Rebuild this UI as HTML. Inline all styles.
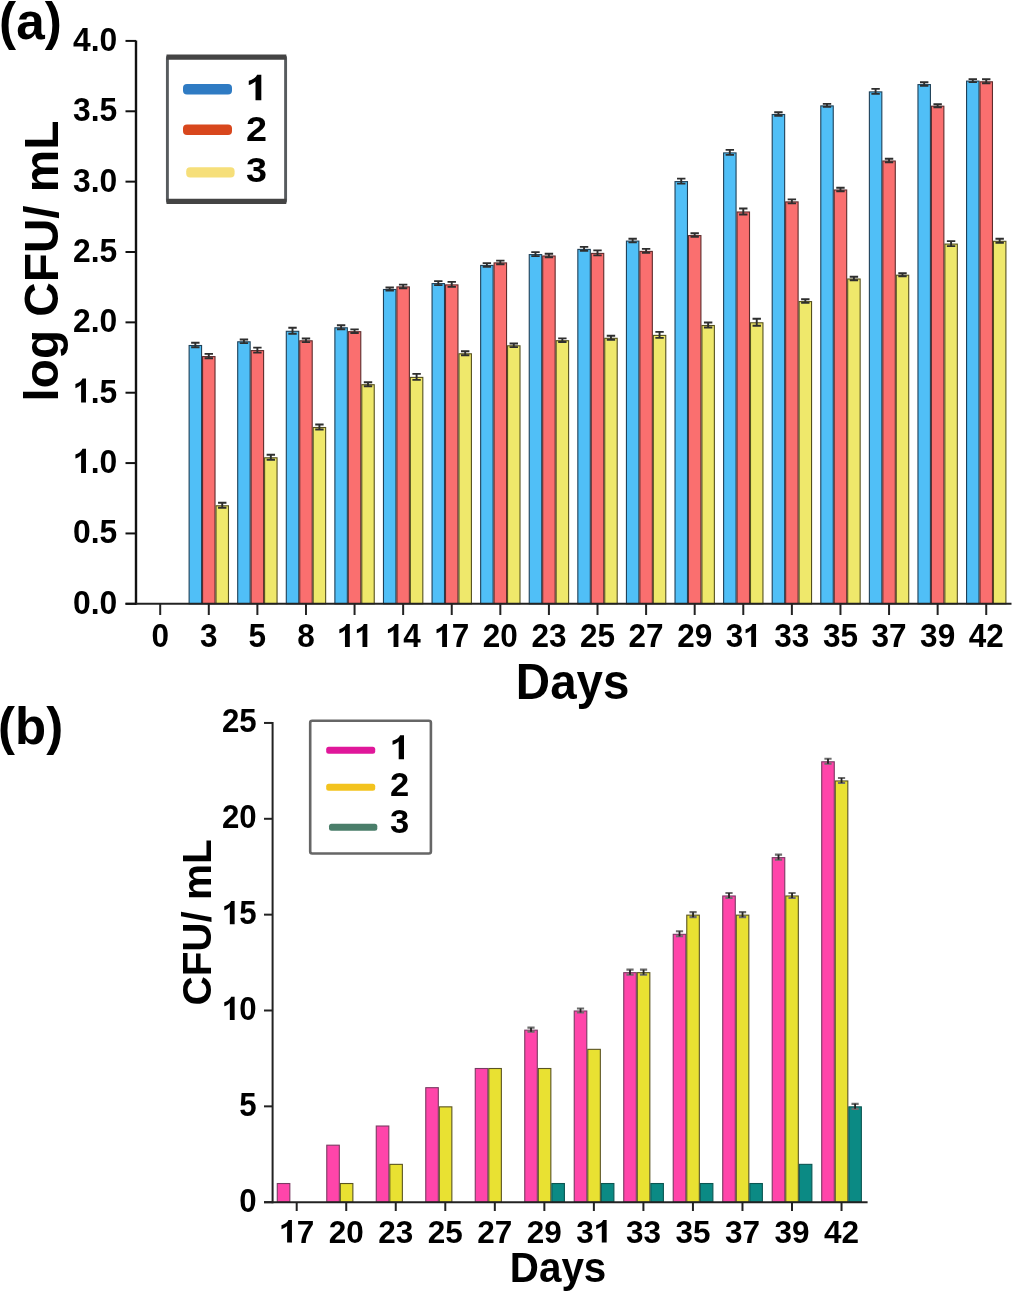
<!DOCTYPE html>
<html><head><meta charset="utf-8"><title>Chart</title>
<style>html,body{margin:0;padding:0;background:#fff;width:1015px;height:1293px;overflow:hidden}</style>
</head><body>
<svg width="1015" height="1293" viewBox="0 0 1015 1293" style="display:block;will-change:transform"><rect width="1015" height="1293" fill="#fff"/><g font-family='"Liberation Sans", sans-serif' font-weight="bold" fill="#000"><rect x="189.12" y="345.50" width="12.45" height="258.30" fill="#50bff7" stroke="#1f4058" stroke-width="1.1"/><rect x="202.56" y="356.60" width="12.45" height="247.20" fill="#fa6f6f" stroke="#5e2c2c" stroke-width="1.1"/><rect x="216.02" y="505.80" width="12.45" height="98.00" fill="#efe86b" stroke="#55501e" stroke-width="1.1"/><rect x="237.70" y="341.80" width="12.45" height="262.00" fill="#50bff7" stroke="#1f4058" stroke-width="1.1"/><rect x="251.15" y="350.60" width="12.45" height="253.20" fill="#fa6f6f" stroke="#5e2c2c" stroke-width="1.1"/><rect x="264.60" y="457.80" width="12.45" height="146.00" fill="#efe86b" stroke="#55501e" stroke-width="1.1"/><rect x="286.30" y="331.30" width="12.45" height="272.50" fill="#50bff7" stroke="#1f4058" stroke-width="1.1"/><rect x="299.75" y="340.80" width="12.45" height="263.00" fill="#fa6f6f" stroke="#5e2c2c" stroke-width="1.1"/><rect x="313.19" y="427.50" width="12.45" height="176.30" fill="#efe86b" stroke="#55501e" stroke-width="1.1"/><rect x="334.88" y="327.80" width="12.45" height="276.00" fill="#50bff7" stroke="#1f4058" stroke-width="1.1"/><rect x="348.33" y="331.70" width="12.45" height="272.10" fill="#fa6f6f" stroke="#5e2c2c" stroke-width="1.1"/><rect x="361.78" y="384.70" width="12.45" height="219.10" fill="#efe86b" stroke="#55501e" stroke-width="1.1"/><rect x="383.47" y="289.50" width="12.45" height="314.30" fill="#50bff7" stroke="#1f4058" stroke-width="1.1"/><rect x="396.92" y="286.90" width="12.45" height="316.90" fill="#fa6f6f" stroke="#5e2c2c" stroke-width="1.1"/><rect x="410.37" y="377.40" width="12.45" height="226.40" fill="#efe86b" stroke="#55501e" stroke-width="1.1"/><rect x="432.06" y="283.60" width="12.45" height="320.20" fill="#50bff7" stroke="#1f4058" stroke-width="1.1"/><rect x="445.51" y="284.90" width="12.45" height="318.90" fill="#fa6f6f" stroke="#5e2c2c" stroke-width="1.1"/><rect x="458.96" y="353.80" width="12.45" height="250.00" fill="#efe86b" stroke="#55501e" stroke-width="1.1"/><rect x="480.65" y="265.40" width="12.45" height="338.40" fill="#50bff7" stroke="#1f4058" stroke-width="1.1"/><rect x="494.10" y="262.90" width="12.45" height="340.90" fill="#fa6f6f" stroke="#5e2c2c" stroke-width="1.1"/><rect x="507.55" y="345.80" width="12.45" height="258.00" fill="#efe86b" stroke="#55501e" stroke-width="1.1"/><rect x="529.25" y="254.60" width="12.45" height="349.20" fill="#50bff7" stroke="#1f4058" stroke-width="1.1"/><rect x="542.70" y="256.00" width="12.45" height="347.80" fill="#fa6f6f" stroke="#5e2c2c" stroke-width="1.1"/><rect x="556.15" y="340.70" width="12.45" height="263.10" fill="#efe86b" stroke="#55501e" stroke-width="1.1"/><rect x="577.84" y="249.40" width="12.45" height="354.40" fill="#50bff7" stroke="#1f4058" stroke-width="1.1"/><rect x="591.29" y="253.40" width="12.45" height="350.40" fill="#fa6f6f" stroke="#5e2c2c" stroke-width="1.1"/><rect x="604.74" y="338.30" width="12.45" height="265.50" fill="#efe86b" stroke="#55501e" stroke-width="1.1"/><rect x="626.43" y="241.10" width="12.45" height="362.70" fill="#50bff7" stroke="#1f4058" stroke-width="1.1"/><rect x="639.88" y="251.40" width="12.45" height="352.40" fill="#fa6f6f" stroke="#5e2c2c" stroke-width="1.1"/><rect x="653.33" y="335.40" width="12.45" height="268.40" fill="#efe86b" stroke="#55501e" stroke-width="1.1"/><rect x="675.02" y="181.60" width="12.45" height="422.20" fill="#50bff7" stroke="#1f4058" stroke-width="1.1"/><rect x="688.47" y="235.60" width="12.45" height="368.20" fill="#fa6f6f" stroke="#5e2c2c" stroke-width="1.1"/><rect x="701.92" y="325.50" width="12.45" height="278.30" fill="#efe86b" stroke="#55501e" stroke-width="1.1"/><rect x="723.61" y="152.90" width="12.45" height="450.90" fill="#50bff7" stroke="#1f4058" stroke-width="1.1"/><rect x="737.06" y="212.00" width="12.45" height="391.80" fill="#fa6f6f" stroke="#5e2c2c" stroke-width="1.1"/><rect x="750.50" y="322.80" width="12.45" height="281.00" fill="#efe86b" stroke="#55501e" stroke-width="1.1"/><rect x="772.20" y="114.50" width="12.45" height="489.30" fill="#50bff7" stroke="#1f4058" stroke-width="1.1"/><rect x="785.65" y="201.90" width="12.45" height="401.90" fill="#fa6f6f" stroke="#5e2c2c" stroke-width="1.1"/><rect x="799.10" y="301.60" width="12.45" height="302.20" fill="#efe86b" stroke="#55501e" stroke-width="1.1"/><rect x="820.79" y="105.90" width="12.45" height="497.90" fill="#50bff7" stroke="#1f4058" stroke-width="1.1"/><rect x="834.24" y="190.00" width="12.45" height="413.80" fill="#fa6f6f" stroke="#5e2c2c" stroke-width="1.1"/><rect x="847.69" y="279.00" width="12.45" height="324.80" fill="#efe86b" stroke="#55501e" stroke-width="1.1"/><rect x="869.38" y="91.90" width="12.45" height="511.90" fill="#50bff7" stroke="#1f4058" stroke-width="1.1"/><rect x="882.83" y="161.00" width="12.45" height="442.80" fill="#fa6f6f" stroke="#5e2c2c" stroke-width="1.1"/><rect x="896.27" y="275.20" width="12.45" height="328.60" fill="#efe86b" stroke="#55501e" stroke-width="1.1"/><rect x="917.97" y="84.60" width="12.45" height="519.20" fill="#50bff7" stroke="#1f4058" stroke-width="1.1"/><rect x="931.42" y="106.20" width="12.45" height="497.60" fill="#fa6f6f" stroke="#5e2c2c" stroke-width="1.1"/><rect x="944.87" y="244.10" width="12.45" height="359.70" fill="#efe86b" stroke="#55501e" stroke-width="1.1"/><rect x="966.56" y="81.10" width="12.45" height="522.70" fill="#50bff7" stroke="#1f4058" stroke-width="1.1"/><rect x="980.01" y="81.80" width="12.45" height="522.00" fill="#fa6f6f" stroke="#5e2c2c" stroke-width="1.1"/><rect x="993.46" y="241.30" width="12.45" height="362.50" fill="#efe86b" stroke="#55501e" stroke-width="1.1"/><path d="M191.14 342.80H199.54M191.14 347.20H199.54M195.34 342.80V347.20" stroke="#2e2e2e" stroke-width="1.9" fill="none"/><path d="M204.59 353.90H212.99M204.59 358.30H212.99M208.79 353.90V358.30" stroke="#2e2e2e" stroke-width="1.9" fill="none"/><path d="M218.04 502.80H226.44M218.04 507.80H226.44M222.24 502.80V507.80" stroke="#2e2e2e" stroke-width="1.9" fill="none"/><path d="M239.73 339.50H248.13M239.73 343.10H248.13M243.93 339.50V343.10" stroke="#2e2e2e" stroke-width="1.9" fill="none"/><path d="M253.18 347.60H261.58M253.18 352.60H261.58M257.38 347.60V352.60" stroke="#2e2e2e" stroke-width="1.9" fill="none"/><path d="M266.63 454.80H275.03M266.63 459.80H275.03M270.83 454.80V459.80" stroke="#2e2e2e" stroke-width="1.9" fill="none"/><path d="M288.32 327.80H296.72M288.32 333.80H296.72M292.52 327.80V333.80" stroke="#2e2e2e" stroke-width="1.9" fill="none"/><path d="M301.77 338.50H310.17M301.77 342.10H310.17M305.97 338.50V342.10" stroke="#2e2e2e" stroke-width="1.9" fill="none"/><path d="M315.22 424.50H323.62M315.22 429.50H323.62M319.42 424.50V429.50" stroke="#2e2e2e" stroke-width="1.9" fill="none"/><path d="M336.91 325.30H345.31M336.91 329.30H345.31M341.11 325.30V329.30" stroke="#2e2e2e" stroke-width="1.9" fill="none"/><path d="M350.36 329.40H358.76M350.36 333.00H358.76M354.56 329.40V333.00" stroke="#2e2e2e" stroke-width="1.9" fill="none"/><path d="M363.81 382.20H372.21M363.81 386.20H372.21M368.01 382.20V386.20" stroke="#2e2e2e" stroke-width="1.9" fill="none"/><path d="M385.50 287.50H393.90M385.50 290.50H393.90M389.70 287.50V290.50" stroke="#2e2e2e" stroke-width="1.9" fill="none"/><path d="M398.95 284.60H407.35M398.95 288.20H407.35M403.15 284.60V288.20" stroke="#2e2e2e" stroke-width="1.9" fill="none"/><path d="M412.40 373.90H420.80M412.40 379.90H420.80M416.60 373.90V379.90" stroke="#2e2e2e" stroke-width="1.9" fill="none"/><path d="M434.09 281.10H442.49M434.09 285.10H442.49M438.29 281.10V285.10" stroke="#2e2e2e" stroke-width="1.9" fill="none"/><path d="M447.54 281.90H455.94M447.54 286.90H455.94M451.74 281.90V286.90" stroke="#2e2e2e" stroke-width="1.9" fill="none"/><path d="M460.99 351.30H469.39M460.99 355.30H469.39M465.19 351.30V355.30" stroke="#2e2e2e" stroke-width="1.9" fill="none"/><path d="M482.68 263.10H491.08M482.68 266.70H491.08M486.88 263.10V266.70" stroke="#2e2e2e" stroke-width="1.9" fill="none"/><path d="M496.13 260.60H504.53M496.13 264.20H504.53M500.33 260.60V264.20" stroke="#2e2e2e" stroke-width="1.9" fill="none"/><path d="M509.58 343.50H517.98M509.58 347.10H517.98M513.78 343.50V347.10" stroke="#2e2e2e" stroke-width="1.9" fill="none"/><path d="M531.27 252.10H539.67M531.27 256.10H539.67M535.47 252.10V256.10" stroke="#2e2e2e" stroke-width="1.9" fill="none"/><path d="M544.72 253.70H553.12M544.72 257.30H553.12M548.92 253.70V257.30" stroke="#2e2e2e" stroke-width="1.9" fill="none"/><path d="M558.17 338.40H566.57M558.17 342.00H566.57M562.37 338.40V342.00" stroke="#2e2e2e" stroke-width="1.9" fill="none"/><path d="M579.86 246.90H588.26M579.86 250.90H588.26M584.06 246.90V250.90" stroke="#2e2e2e" stroke-width="1.9" fill="none"/><path d="M593.31 250.40H601.71M593.31 255.40H601.71M597.51 250.40V255.40" stroke="#2e2e2e" stroke-width="1.9" fill="none"/><path d="M606.76 335.80H615.16M606.76 339.80H615.16M610.96 335.80V339.80" stroke="#2e2e2e" stroke-width="1.9" fill="none"/><path d="M628.45 238.80H636.85M628.45 242.40H636.85M632.65 238.80V242.40" stroke="#2e2e2e" stroke-width="1.9" fill="none"/><path d="M641.90 248.90H650.30M641.90 252.90H650.30M646.10 248.90V252.90" stroke="#2e2e2e" stroke-width="1.9" fill="none"/><path d="M655.35 331.90H663.75M655.35 337.90H663.75M659.55 331.90V337.90" stroke="#2e2e2e" stroke-width="1.9" fill="none"/><path d="M677.04 178.60H685.44M677.04 183.60H685.44M681.24 178.60V183.60" stroke="#2e2e2e" stroke-width="1.9" fill="none"/><path d="M690.49 233.30H698.89M690.49 236.90H698.89M694.69 233.30V236.90" stroke="#2e2e2e" stroke-width="1.9" fill="none"/><path d="M703.94 322.50H712.34M703.94 327.50H712.34M708.14 322.50V327.50" stroke="#2e2e2e" stroke-width="1.9" fill="none"/><path d="M725.63 149.90H734.03M725.63 154.90H734.03M729.83 149.90V154.90" stroke="#2e2e2e" stroke-width="1.9" fill="none"/><path d="M739.08 208.50H747.48M739.08 214.50H747.48M743.28 208.50V214.50" stroke="#2e2e2e" stroke-width="1.9" fill="none"/><path d="M752.53 318.80H760.93M752.53 325.80H760.93M756.73 318.80V325.80" stroke="#2e2e2e" stroke-width="1.9" fill="none"/><path d="M774.22 112.20H782.62M774.22 115.80H782.62M778.42 112.20V115.80" stroke="#2e2e2e" stroke-width="1.9" fill="none"/><path d="M787.67 199.40H796.07M787.67 203.40H796.07M791.87 199.40V203.40" stroke="#2e2e2e" stroke-width="1.9" fill="none"/><path d="M801.12 299.30H809.52M801.12 302.90H809.52M805.32 299.30V302.90" stroke="#2e2e2e" stroke-width="1.9" fill="none"/><path d="M822.81 103.90H831.21M822.81 106.90H831.21M827.01 103.90V106.90" stroke="#2e2e2e" stroke-width="1.9" fill="none"/><path d="M836.26 187.70H844.66M836.26 191.30H844.66M840.46 187.70V191.30" stroke="#2e2e2e" stroke-width="1.9" fill="none"/><path d="M849.71 276.70H858.11M849.71 280.30H858.11M853.91 276.70V280.30" stroke="#2e2e2e" stroke-width="1.9" fill="none"/><path d="M871.40 88.90H879.80M871.40 93.90H879.80M875.60 88.90V93.90" stroke="#2e2e2e" stroke-width="1.9" fill="none"/><path d="M884.85 158.70H893.25M884.85 162.30H893.25M889.05 158.70V162.30" stroke="#2e2e2e" stroke-width="1.9" fill="none"/><path d="M898.30 273.20H906.70M898.30 276.20H906.70M902.50 273.20V276.20" stroke="#2e2e2e" stroke-width="1.9" fill="none"/><path d="M919.99 82.30H928.39M919.99 85.90H928.39M924.19 82.30V85.90" stroke="#2e2e2e" stroke-width="1.9" fill="none"/><path d="M933.44 104.20H941.84M933.44 107.20H941.84M937.64 104.20V107.20" stroke="#2e2e2e" stroke-width="1.9" fill="none"/><path d="M946.89 241.10H955.29M946.89 246.10H955.29M951.09 241.10V246.10" stroke="#2e2e2e" stroke-width="1.9" fill="none"/><path d="M968.58 79.10H976.98M968.58 82.10H976.98M972.78 79.10V82.10" stroke="#2e2e2e" stroke-width="1.9" fill="none"/><path d="M982.03 79.30H990.43M982.03 83.30H990.43M986.23 79.30V83.30" stroke="#2e2e2e" stroke-width="1.9" fill="none"/><path d="M995.48 238.80H1003.88M995.48 242.80H1003.88M999.68 238.80V242.80" stroke="#2e2e2e" stroke-width="1.9" fill="none"/><path d="M136.0 40.5V604.8" stroke="#111" stroke-width="2.4" fill="none"/><path d="M125.5 603.8H1011.5" stroke="#222" stroke-width="2" fill="none"/><path d="M125.5 603.80H136.0" stroke="#111" stroke-width="2" fill="none"/><text transform="translate(117.30 613.70) scale(1.0 1.06)" font-size="31.8" text-anchor="end">0.0</text><path d="M125.5 533.44H136.0" stroke="#111" stroke-width="2" fill="none"/><text transform="translate(117.30 543.34) scale(1.0 1.06)" font-size="31.8" text-anchor="end">0.5</text><path d="M125.5 463.08H136.0" stroke="#111" stroke-width="2" fill="none"/><text transform="translate(117.30 472.98) scale(1.0 1.06)" font-size="31.8" text-anchor="end"> .0</text><path transform="translate(117.30 472.98) scale(1.0 1.06) translate(-44.206 0) scale(0.01553 -0.01553)" d="M515 0L830 0L830 1466L600 1466C570 1380 500 1300 400 1236C320 1186 230 1150 150 1126L150 874C290 918 420 990 515 1080Z"/><path d="M125.5 392.72H136.0" stroke="#111" stroke-width="2" fill="none"/><text transform="translate(117.30 402.62) scale(1.0 1.06)" font-size="31.8" text-anchor="end"> .5</text><path transform="translate(117.30 402.62) scale(1.0 1.06) translate(-44.206 0) scale(0.01553 -0.01553)" d="M515 0L830 0L830 1466L600 1466C570 1380 500 1300 400 1236C320 1186 230 1150 150 1126L150 874C290 918 420 990 515 1080Z"/><path d="M125.5 322.36H136.0" stroke="#111" stroke-width="2" fill="none"/><text transform="translate(117.30 332.26) scale(1.0 1.06)" font-size="31.8" text-anchor="end">2.0</text><path d="M125.5 252.00H136.0" stroke="#111" stroke-width="2" fill="none"/><text transform="translate(117.30 261.90) scale(1.0 1.06)" font-size="31.8" text-anchor="end">2.5</text><path d="M125.5 181.64H136.0" stroke="#111" stroke-width="2" fill="none"/><text transform="translate(117.30 191.54) scale(1.0 1.06)" font-size="31.8" text-anchor="end">3.0</text><path d="M125.5 111.28H136.0" stroke="#111" stroke-width="2" fill="none"/><text transform="translate(117.30 121.18) scale(1.0 1.06)" font-size="31.8" text-anchor="end">3.5</text><path d="M125.5 40.92H136.0" stroke="#111" stroke-width="2" fill="none"/><text transform="translate(117.30 50.82) scale(1.0 1.06)" font-size="31.8" text-anchor="end">4.0</text><path d="M160.20 603.8V615" stroke="#222" stroke-width="2" fill="none"/><text transform="translate(160.20 647.10) scale(1.0 1.03)" font-size="31.5" text-anchor="middle">0</text><path d="M208.79 603.8V615" stroke="#222" stroke-width="2" fill="none"/><text transform="translate(208.79 647.10) scale(1.0 1.03)" font-size="31.5" text-anchor="middle">3</text><path d="M257.38 603.8V615" stroke="#222" stroke-width="2" fill="none"/><text transform="translate(257.38 647.10) scale(1.0 1.03)" font-size="31.5" text-anchor="middle">5</text><path d="M305.97 603.8V615" stroke="#222" stroke-width="2" fill="none"/><text transform="translate(305.97 647.10) scale(1.0 1.03)" font-size="31.5" text-anchor="middle">8</text><path d="M354.56 603.8V615" stroke="#222" stroke-width="2" fill="none"/><text transform="translate(354.56 647.10) scale(1.0 1.03)" font-size="31.5" text-anchor="middle">  </text><path transform="translate(354.56 647.10) scale(1.0 1.03) translate(-17.519 0) scale(0.01538 -0.01538)" d="M515 0L830 0L830 1466L600 1466C570 1380 500 1300 400 1236C320 1186 230 1150 150 1126L150 874C290 918 420 990 515 1080Z"/><path transform="translate(354.56 647.10) scale(1.0 1.03) translate(0.000 0) scale(0.01538 -0.01538)" d="M515 0L830 0L830 1466L600 1466C570 1380 500 1300 400 1236C320 1186 230 1150 150 1126L150 874C290 918 420 990 515 1080Z"/><path d="M403.15 603.8V615" stroke="#222" stroke-width="2" fill="none"/><text transform="translate(403.15 647.10) scale(1.0 1.03)" font-size="31.5" text-anchor="middle"> 4</text><path transform="translate(403.15 647.10) scale(1.0 1.03) translate(-17.519 0) scale(0.01538 -0.01538)" d="M515 0L830 0L830 1466L600 1466C570 1380 500 1300 400 1236C320 1186 230 1150 150 1126L150 874C290 918 420 990 515 1080Z"/><path d="M451.74 603.8V615" stroke="#222" stroke-width="2" fill="none"/><text transform="translate(451.74 647.10) scale(1.0 1.03)" font-size="31.5" text-anchor="middle"> 7</text><path transform="translate(451.74 647.10) scale(1.0 1.03) translate(-17.519 0) scale(0.01538 -0.01538)" d="M515 0L830 0L830 1466L600 1466C570 1380 500 1300 400 1236C320 1186 230 1150 150 1126L150 874C290 918 420 990 515 1080Z"/><path d="M500.33 603.8V615" stroke="#222" stroke-width="2" fill="none"/><text transform="translate(500.33 647.10) scale(1.0 1.03)" font-size="31.5" text-anchor="middle">20</text><path d="M548.92 603.8V615" stroke="#222" stroke-width="2" fill="none"/><text transform="translate(548.92 647.10) scale(1.0 1.03)" font-size="31.5" text-anchor="middle">23</text><path d="M597.51 603.8V615" stroke="#222" stroke-width="2" fill="none"/><text transform="translate(597.51 647.10) scale(1.0 1.03)" font-size="31.5" text-anchor="middle">25</text><path d="M646.10 603.8V615" stroke="#222" stroke-width="2" fill="none"/><text transform="translate(646.10 647.10) scale(1.0 1.03)" font-size="31.5" text-anchor="middle">27</text><path d="M694.69 603.8V615" stroke="#222" stroke-width="2" fill="none"/><text transform="translate(694.69 647.10) scale(1.0 1.03)" font-size="31.5" text-anchor="middle">29</text><path d="M743.28 603.8V615" stroke="#222" stroke-width="2" fill="none"/><text transform="translate(743.28 647.10) scale(1.0 1.03)" font-size="31.5" text-anchor="middle">3 </text><path transform="translate(743.28 647.10) scale(1.0 1.03) translate(0.000 0) scale(0.01538 -0.01538)" d="M515 0L830 0L830 1466L600 1466C570 1380 500 1300 400 1236C320 1186 230 1150 150 1126L150 874C290 918 420 990 515 1080Z"/><path d="M791.87 603.8V615" stroke="#222" stroke-width="2" fill="none"/><text transform="translate(791.87 647.10) scale(1.0 1.03)" font-size="31.5" text-anchor="middle">33</text><path d="M840.46 603.8V615" stroke="#222" stroke-width="2" fill="none"/><text transform="translate(840.46 647.10) scale(1.0 1.03)" font-size="31.5" text-anchor="middle">35</text><path d="M889.05 603.8V615" stroke="#222" stroke-width="2" fill="none"/><text transform="translate(889.05 647.10) scale(1.0 1.03)" font-size="31.5" text-anchor="middle">37</text><path d="M937.64 603.8V615" stroke="#222" stroke-width="2" fill="none"/><text transform="translate(937.64 647.10) scale(1.0 1.03)" font-size="31.5" text-anchor="middle">39</text><path d="M986.23 603.8V615" stroke="#222" stroke-width="2" fill="none"/><text transform="translate(986.23 647.10) scale(1.0 1.03)" font-size="31.5" text-anchor="middle">42</text><text transform="translate(572.60 698.70) scale(1.0 1.04)" font-size="47.5" text-anchor="middle">Days</text><text transform="translate(58.20 261.00) rotate(-90) scale(1.0 1.01)" font-size="47.7" text-anchor="middle">log CFU/ mL</text><text transform="translate(-0.90 38.70) scale(1.0 1.02)" font-size="51.3">(a)</text><rect x="167.4" y="56.5" width="118.2" height="145.5" rx="1.5" fill="#fff" stroke="#575b5e" stroke-width="2.9"/><path d="M166.5 57.1H286.3M166.5 201.3H286.3" stroke="#444" stroke-width="5.2" fill="none"/><rect x="183" y="84" width="49" height="10.4" rx="4" fill="#2f7bc3"/><rect x="183" y="124.5" width="49" height="10.4" rx="4" fill="#d8471d"/><rect x="186.2" y="167.2" width="48.4" height="10.4" rx="4" fill="#f6df7a"/><text transform="translate(246.00 100.30) scale(1.08 1.02)" font-size="35"> </text><path transform="translate(246.00 100.30) scale(1.08 1.02) translate(0.000 0) scale(0.01709 -0.01709)" d="M515 0L830 0L830 1466L600 1466C570 1380 500 1300 400 1236C320 1186 230 1150 150 1126L150 874C290 918 420 990 515 1080Z"/><text transform="translate(246.00 141.00) scale(1.08 1.02)" font-size="35">2</text><text transform="translate(246.00 181.70) scale(1.08 1.02)" font-size="35">3</text><rect x="277.28" y="1183.53" width="12.55" height="18.67" fill="#ff45aa" stroke="#7a3a62" stroke-width="1.1"/><rect x="326.77" y="1145.19" width="12.55" height="57.01" fill="#ff45aa" stroke="#7a3a62" stroke-width="1.1"/><rect x="340.32" y="1183.53" width="12.55" height="18.67" fill="#e9e132" stroke="#5a5422" stroke-width="1.1"/><rect x="376.27" y="1126.02" width="12.55" height="76.18" fill="#ff45aa" stroke="#7a3a62" stroke-width="1.1"/><rect x="389.82" y="1164.36" width="12.55" height="37.84" fill="#e9e132" stroke="#5a5422" stroke-width="1.1"/><rect x="425.76" y="1087.68" width="12.55" height="114.52" fill="#ff45aa" stroke="#7a3a62" stroke-width="1.1"/><rect x="439.31" y="1106.85" width="12.55" height="95.35" fill="#e9e132" stroke="#5a5422" stroke-width="1.1"/><rect x="475.26" y="1068.51" width="12.55" height="133.69" fill="#ff45aa" stroke="#7a3a62" stroke-width="1.1"/><rect x="488.81" y="1068.51" width="12.55" height="133.69" fill="#e9e132" stroke="#5a5422" stroke-width="1.1"/><rect x="524.75" y="1030.17" width="12.55" height="172.03" fill="#ff45aa" stroke="#7a3a62" stroke-width="1.1"/><rect x="538.30" y="1068.51" width="12.55" height="133.69" fill="#e9e132" stroke="#5a5422" stroke-width="1.1"/><rect x="551.85" y="1183.53" width="12.55" height="18.67" fill="#0b8a84" stroke="#0b5652" stroke-width="1.1"/><rect x="574.24" y="1011.00" width="12.55" height="191.20" fill="#ff45aa" stroke="#7a3a62" stroke-width="1.1"/><rect x="587.79" y="1049.34" width="12.55" height="152.86" fill="#e9e132" stroke="#5a5422" stroke-width="1.1"/><rect x="601.34" y="1183.53" width="12.55" height="18.67" fill="#0b8a84" stroke="#0b5652" stroke-width="1.1"/><rect x="623.74" y="972.66" width="12.55" height="229.54" fill="#ff45aa" stroke="#7a3a62" stroke-width="1.1"/><rect x="637.29" y="972.66" width="12.55" height="229.54" fill="#e9e132" stroke="#5a5422" stroke-width="1.1"/><rect x="650.84" y="1183.53" width="12.55" height="18.67" fill="#0b8a84" stroke="#0b5652" stroke-width="1.1"/><rect x="673.23" y="934.32" width="12.55" height="267.88" fill="#ff45aa" stroke="#7a3a62" stroke-width="1.1"/><rect x="686.78" y="915.15" width="12.55" height="287.05" fill="#e9e132" stroke="#5a5422" stroke-width="1.1"/><rect x="700.33" y="1183.53" width="12.55" height="18.67" fill="#0b8a84" stroke="#0b5652" stroke-width="1.1"/><rect x="722.73" y="895.98" width="12.55" height="306.22" fill="#ff45aa" stroke="#7a3a62" stroke-width="1.1"/><rect x="736.28" y="915.15" width="12.55" height="287.05" fill="#e9e132" stroke="#5a5422" stroke-width="1.1"/><rect x="749.83" y="1183.53" width="12.55" height="18.67" fill="#0b8a84" stroke="#0b5652" stroke-width="1.1"/><rect x="772.22" y="857.64" width="12.55" height="344.56" fill="#ff45aa" stroke="#7a3a62" stroke-width="1.1"/><rect x="785.77" y="895.98" width="12.55" height="306.22" fill="#e9e132" stroke="#5a5422" stroke-width="1.1"/><rect x="799.32" y="1164.36" width="12.55" height="37.84" fill="#0b8a84" stroke="#0b5652" stroke-width="1.1"/><rect x="821.72" y="761.79" width="12.55" height="440.41" fill="#ff45aa" stroke="#7a3a62" stroke-width="1.1"/><rect x="835.27" y="780.96" width="12.55" height="421.24" fill="#e9e132" stroke="#5a5422" stroke-width="1.1"/><rect x="848.82" y="1106.85" width="12.55" height="95.35" fill="#0b8a84" stroke="#0b5652" stroke-width="1.1"/><path d="M527.42 1027.67H534.62M527.42 1031.67H534.62" stroke="#6e6e6e" stroke-width="2.1" fill="none"/><path d="M531.02 1027.67V1031.67" stroke="#222" stroke-width="1.8" fill="none"/><path d="M576.92 1008.50H584.12M576.92 1012.50H584.12" stroke="#6e6e6e" stroke-width="2.1" fill="none"/><path d="M580.52 1008.50V1012.50" stroke="#222" stroke-width="1.8" fill="none"/><path d="M626.41 969.66H633.62M626.41 974.66H633.62" stroke="#6e6e6e" stroke-width="2.1" fill="none"/><path d="M630.01 969.66V974.66" stroke="#222" stroke-width="1.8" fill="none"/><path d="M639.96 969.66H647.16M639.96 974.66H647.16" stroke="#6e6e6e" stroke-width="2.1" fill="none"/><path d="M643.56 969.66V974.66" stroke="#222" stroke-width="1.8" fill="none"/><path d="M675.91 931.32H683.11M675.91 936.32H683.11" stroke="#6e6e6e" stroke-width="2.1" fill="none"/><path d="M679.51 931.32V936.32" stroke="#222" stroke-width="1.8" fill="none"/><path d="M689.46 912.15H696.66M689.46 917.15H696.66" stroke="#6e6e6e" stroke-width="2.1" fill="none"/><path d="M693.06 912.15V917.15" stroke="#222" stroke-width="1.8" fill="none"/><path d="M725.40 892.98H732.61M725.40 897.98H732.61" stroke="#6e6e6e" stroke-width="2.1" fill="none"/><path d="M729.00 892.98V897.98" stroke="#222" stroke-width="1.8" fill="none"/><path d="M738.95 912.15H746.15M738.95 917.15H746.15" stroke="#6e6e6e" stroke-width="2.1" fill="none"/><path d="M742.55 912.15V917.15" stroke="#222" stroke-width="1.8" fill="none"/><path d="M774.90 854.64H782.10M774.90 859.64H782.10" stroke="#6e6e6e" stroke-width="2.1" fill="none"/><path d="M778.50 854.64V859.64" stroke="#222" stroke-width="1.8" fill="none"/><path d="M788.45 892.98H795.65M788.45 897.98H795.65" stroke="#6e6e6e" stroke-width="2.1" fill="none"/><path d="M792.05 892.98V897.98" stroke="#222" stroke-width="1.8" fill="none"/><path d="M824.39 758.79H831.59M824.39 763.79H831.59" stroke="#6e6e6e" stroke-width="2.1" fill="none"/><path d="M827.99 758.79V763.79" stroke="#222" stroke-width="1.8" fill="none"/><path d="M837.94 777.96H845.14M837.94 782.96H845.14" stroke="#6e6e6e" stroke-width="2.1" fill="none"/><path d="M841.54 777.96V782.96" stroke="#222" stroke-width="1.8" fill="none"/><path d="M851.49 1103.85H858.69M851.49 1108.85H858.69" stroke="#6e6e6e" stroke-width="2.1" fill="none"/><path d="M855.09 1103.85V1108.85" stroke="#222" stroke-width="1.8" fill="none"/><path d="M272.6 722V1203.2" stroke="#222" stroke-width="2" fill="none"/><path d="M264 1202.2H867.6" stroke="#222" stroke-width="2" fill="none"/><path d="M264 1202.20H272.6" stroke="#222" stroke-width="2" fill="none"/><text transform="translate(256.70 1211.70) scale(1.0 1.04)" font-size="31.2" text-anchor="end">0</text><path d="M264 1106.35H272.6" stroke="#222" stroke-width="2" fill="none"/><text transform="translate(256.70 1115.85) scale(1.0 1.04)" font-size="31.2" text-anchor="end">5</text><path d="M264 1010.50H272.6" stroke="#222" stroke-width="2" fill="none"/><text transform="translate(256.70 1020.00) scale(1.0 1.04)" font-size="31.2" text-anchor="end"> 0</text><path transform="translate(256.70 1020.00) scale(1.0 1.04) translate(-34.704 0) scale(0.01523 -0.01523)" d="M515 0L830 0L830 1466L600 1466C570 1380 500 1300 400 1236C320 1186 230 1150 150 1126L150 874C290 918 420 990 515 1080Z"/><path d="M264 914.65H272.6" stroke="#222" stroke-width="2" fill="none"/><text transform="translate(256.70 924.15) scale(1.0 1.04)" font-size="31.2" text-anchor="end"> 5</text><path transform="translate(256.70 924.15) scale(1.0 1.04) translate(-34.704 0) scale(0.01523 -0.01523)" d="M515 0L830 0L830 1466L600 1466C570 1380 500 1300 400 1236C320 1186 230 1150 150 1126L150 874C290 918 420 990 515 1080Z"/><path d="M264 818.80H272.6" stroke="#222" stroke-width="2" fill="none"/><text transform="translate(256.70 828.30) scale(1.0 1.04)" font-size="31.2" text-anchor="end">20</text><path d="M264 722.95H272.6" stroke="#222" stroke-width="2" fill="none"/><text transform="translate(256.70 732.45) scale(1.0 1.04)" font-size="31.2" text-anchor="end">25</text><path d="M296.70 1202.2V1211" stroke="#222" stroke-width="2" fill="none"/><text transform="translate(296.70 1242.60) scale(1.0 1.0)" font-size="31.5" text-anchor="middle"> 7</text><path transform="translate(296.70 1242.60) scale(1.0 1.0) translate(-17.519 0) scale(0.01538 -0.01538)" d="M515 0L830 0L830 1466L600 1466C570 1380 500 1300 400 1236C320 1186 230 1150 150 1126L150 874C290 918 420 990 515 1080Z"/><path d="M346.23 1202.2V1211" stroke="#222" stroke-width="2" fill="none"/><text transform="translate(346.23 1242.60) scale(1.0 1.0)" font-size="31.5" text-anchor="middle">20</text><path d="M395.76 1202.2V1211" stroke="#222" stroke-width="2" fill="none"/><text transform="translate(395.76 1242.60) scale(1.0 1.0)" font-size="31.5" text-anchor="middle">23</text><path d="M445.29 1202.2V1211" stroke="#222" stroke-width="2" fill="none"/><text transform="translate(445.29 1242.60) scale(1.0 1.0)" font-size="31.5" text-anchor="middle">25</text><path d="M494.82 1202.2V1211" stroke="#222" stroke-width="2" fill="none"/><text transform="translate(494.82 1242.60) scale(1.0 1.0)" font-size="31.5" text-anchor="middle">27</text><path d="M544.35 1202.2V1211" stroke="#222" stroke-width="2" fill="none"/><text transform="translate(544.35 1242.60) scale(1.0 1.0)" font-size="31.5" text-anchor="middle">29</text><path d="M593.88 1202.2V1211" stroke="#222" stroke-width="2" fill="none"/><text transform="translate(593.88 1242.60) scale(1.0 1.0)" font-size="31.5" text-anchor="middle">3 </text><path transform="translate(593.88 1242.60) scale(1.0 1.0) translate(0.000 0) scale(0.01538 -0.01538)" d="M515 0L830 0L830 1466L600 1466C570 1380 500 1300 400 1236C320 1186 230 1150 150 1126L150 874C290 918 420 990 515 1080Z"/><path d="M643.41 1202.2V1211" stroke="#222" stroke-width="2" fill="none"/><text transform="translate(643.41 1242.60) scale(1.0 1.0)" font-size="31.5" text-anchor="middle">33</text><path d="M692.94 1202.2V1211" stroke="#222" stroke-width="2" fill="none"/><text transform="translate(692.94 1242.60) scale(1.0 1.0)" font-size="31.5" text-anchor="middle">35</text><path d="M742.47 1202.2V1211" stroke="#222" stroke-width="2" fill="none"/><text transform="translate(742.47 1242.60) scale(1.0 1.0)" font-size="31.5" text-anchor="middle">37</text><path d="M792.00 1202.2V1211" stroke="#222" stroke-width="2" fill="none"/><text transform="translate(792.00 1242.60) scale(1.0 1.0)" font-size="31.5" text-anchor="middle">39</text><path d="M841.53 1202.2V1211" stroke="#222" stroke-width="2" fill="none"/><text transform="translate(841.53 1242.60) scale(1.0 1.0)" font-size="31.5" text-anchor="middle">42</text><text transform="translate(558.05 1282.30) scale(1.0 1.04)" font-size="40.4" text-anchor="middle">Days</text><text transform="translate(211.10 922.40) rotate(-90) scale(1.0 1.02)" font-size="40.5" text-anchor="middle">CFU/ mL</text><text transform="translate(-1.90 744.40) scale(1.0 1.02)" font-size="51">(b)</text><rect x="310.2" y="720.7" width="120.7" height="132.8" rx="2" fill="#fff" stroke="#666" stroke-width="2.6"/><rect x="326.2" y="746.8" width="49" height="7" rx="2.5" fill="#e0179a"/><rect x="326.2" y="783.8" width="49" height="7" rx="2.5" fill="#f3c31e"/><rect x="329" y="823.8" width="48.3" height="7" rx="2.5" fill="#4a7e6a"/><text transform="translate(390.00 759.20) scale(1.08 1.05)" font-size="32"> </text><path transform="translate(390.00 759.20) scale(1.08 1.05) translate(0.000 0) scale(0.01562 -0.01562)" d="M515 0L830 0L830 1466L600 1466C570 1380 500 1300 400 1236C320 1186 230 1150 150 1126L150 874C290 918 420 990 515 1080Z"/><text transform="translate(390.00 796.40) scale(1.08 1.05)" font-size="32">2</text><text transform="translate(390.00 833.20) scale(1.08 1.05)" font-size="32">3</text></g></svg>
</body></html>
